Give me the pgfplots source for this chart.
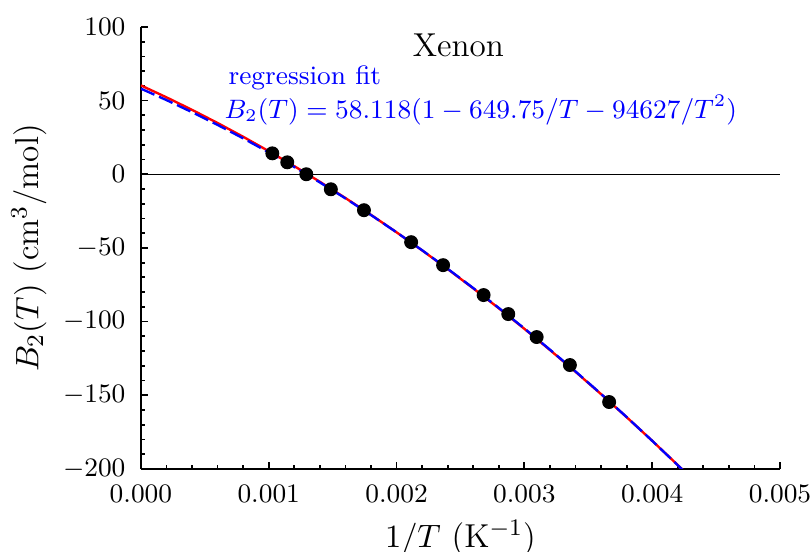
\documentclass[border=0pt]{standalone}
\usepackage{pgfplots}
\pgfplotsset{compat=1.18}
\usetikzlibrary{calc}

\begin{document}
\begin{tikzpicture}
\begin{axis}[
    width=215.9pt, height=149.3pt, scale only axis,
    xmin=0, xmax=0.005, ymin=-200, ymax=100,
    axis x line*=bottom, axis y line*=left,
    axis line style={line width=0.7pt, -},
    tick align=inside,
    xtick={0,0.001,0.002,0.003,0.004,0.005},
    ytick={-200,-150,-100,-50,0,50,100},
    minor x tick num=4, minor y tick num=4,
    major tick length=2.4pt, minor tick length=1.3pt,
    every tick/.style={black, line width=0.6pt},
    scaled x ticks=false,
    tick label style={font=\fontsize{9}{11}\selectfont},
    xticklabel style={/pgf/number format/fixed, /pgf/number format/fixed zerofill,
        /pgf/number format/precision=3, yshift=-2pt},
    yticklabel style={xshift=-1.7pt},
    xlabel={$1/T$ (K$^{-1}$)},
    ylabel={$B_2(T)$ (cm$^3$/mol)},
    label style={font=\fontsize{11.2}{13}\selectfont},
    xlabel style={at={(axis description cs:0.5,0)}, anchor=center, yshift=-23.3pt},
    ylabel style={at={(axis description cs:0,0.5)}, anchor=center, rotate=0, yshift=37.8pt},
    clip mode=individual,
]
\coordinate (O) at (rel axis cs:0,0);
\coordinate (E) at (rel axis cs:1,1);

% zero line
\addplot[black, line width=0.5pt] coordinates {(0,0) (0.005,0)};

% red fit
\addplot[red, line width=0.8pt] coordinates {
(0.0000, 60.300) (0.0002, 52.212) (0.0004, 43.706) (0.0006, 34.781)
(0.0008, 25.438) (0.0010, 15.677) (0.0012, 5.498) (0.0014, -5.099)
(0.0016, -16.114) (0.0018, -27.548) (0.0020, -39.400) (0.0022, -51.670)
(0.0024, -64.358) (0.0026, -77.465) (0.0028, -90.990) (0.0030, -104.933)
(0.0032, -119.294) (0.0034, -134.073) (0.0036, -149.270) (0.0038, -164.886)
(0.0040, -180.920) (0.0042, -197.372) (0.0044, -214.242)
};

% blue dashed regression fit
\addplot[blue, line width=0.8pt, dash pattern=on 5pt off 1.7pt] coordinates {
(0.0000, 58.118) (0.0002, 50.346) (0.0004, 42.133) (0.0006, 33.481)
(0.0008, 24.388) (0.0010, 14.856) (0.0012, 4.884) (0.0014, -5.528)
(0.0016, -16.381) (0.0018, -27.672) (0.0020, -39.404) (0.0022, -51.577)
(0.0024, -64.188) (0.0026, -77.241) (0.0028, -90.732) (0.0030, -104.665)
(0.0032, -119.036) (0.0034, -133.847) (0.0036, -149.100) (0.0038, -164.791)
(0.0040, -180.923) (0.0042, -197.494) (0.0044, -214.506)
};

% data
\addplot[only marks, mark=*, mark size=2.15pt, black] coordinates {
(0.001028, 14.2) (0.001145, 8.1) (0.001294, 0.0) (0.001486, -10.2)
(0.001745, -24.4) (0.002114, -46.1) (0.002364, -61.7) (0.002681, -82.0)
(0.002874, -94.9) (0.003096, -110.5) (0.003356, -129.5) (0.003663, -154.6)
};

\node[anchor=base, inner sep=0pt, font=\fontsize{11.2}{13}\selectfont] at (axis cs:0.002484,80.2) {Xenon};
\node[blue, anchor=base west, inner sep=0pt, font=\fontsize{9}{11}\selectfont] at (axis cs:0.000681,61.0) {regression fit};
\node[blue, anchor=base west, inner sep=0pt, font=\fontsize{9}{11}\selectfont] at (axis cs:0.000650,38.0) {$B_2(T) = 58.118(1 - 649.75/T - 94627/T^2)$};
\end{axis}
\pgfresetboundingbox
\path ($(O)+(-47.6pt,-28.0pt)$) rectangle ($(E)+(10.8pt,9.1pt)$);
\end{tikzpicture}
\end{document}
